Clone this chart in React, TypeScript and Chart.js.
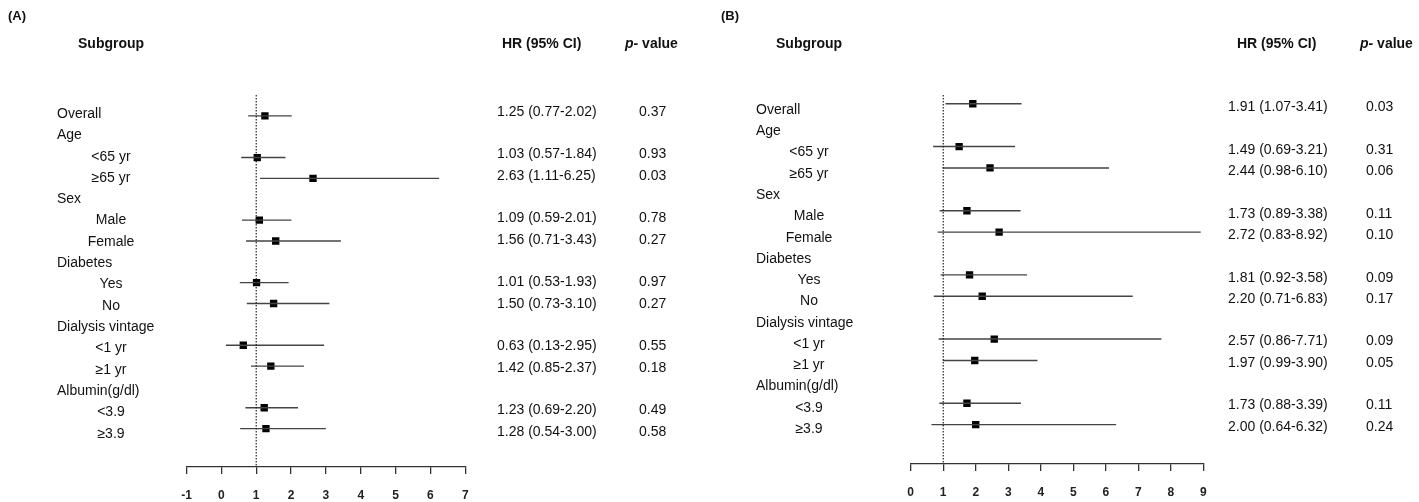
import React, { useEffect, useRef } from "react";
import { Chart, registerables } from "chart.js";
Chart.register(...registerables);

// ---------- data ----------
const subgroupLabels = [
  "Overall", "Age", "<65 yr", "≥65 yr", "Sex", "Male", "Female", "Diabetes",
  "Yes", "No", "Dialysis vintage", "<1 yr", "≥1 yr", "Albumin(g/dl)", "<3.9", "≥3.9",
];
const headerRows = ["Overall", "Age", "Sex", "Diabetes", "Dialysis vintage", "Albumin(g/dl)"];

// Panel A
const hrA = [1.25, null, 1.03, 2.63, null, 1.09, 1.56, null, 1.01, 1.5, null, 0.63, 1.42, null, 1.23, 1.28];
const loA = [0.77, null, 0.57, 1.11, null, 0.59, 0.71, null, 0.53, 0.73, null, 0.13, 0.85, null, 0.69, 0.54];
const hiA = [2.02, null, 1.84, 6.25, null, 2.01, 3.43, null, 1.93, 3.1, null, 2.95, 2.37, null, 2.2, 3.0];
const pA = ["0.37", null, "0.93", "0.03", null, "0.78", "0.27", null, "0.97", "0.27", null, "0.55", "0.18", null, "0.49", "0.58"];
const ticksA = [-1, 0, 1, 2, 3, 4, 5, 6, 7];

// Panel B
const hrB = [1.91, null, 1.49, 2.44, null, 1.73, 2.72, null, 1.81, 2.2, null, 2.57, 1.97, null, 1.73, 2.0];
const loB = [1.07, null, 0.69, 0.98, null, 0.89, 0.83, null, 0.92, 0.71, null, 0.86, 0.99, null, 0.88, 0.64];
const hiB = [3.41, null, 3.21, 6.1, null, 3.38, 8.92, null, 3.58, 6.83, null, 7.71, 3.9, null, 3.39, 6.32];
const pB = ["0.03", null, "0.31", "0.06", null, "0.11", "0.10", null, "0.09", "0.17", null, "0.09", "0.05", null, "0.11", "0.24"];
const ticksB = [0, 1, 2, 3, 4, 5, 6, 7, 8, 9];

const refValue = 1;

const FONT = '"Liberation Sans", Arial, Helvetica, sans-serif';

type Layout = {
  tag: string;
  left: number;
  width: number;
  padLeft: number;
  padRight: number;
  padTop: number;
  axisHeight: number;
  yRange: [number, number];
  labRange: [number, number];
  valRange: [number, number];
  tagX: number;
  tagY: number;
  headY: number;
  subgroupX: number;
  hrHeadX: number;
  pHeadX: number;
  headerX: number;
  subCenterX: number;
  hrX: number;
  pX: number;
};

type PanelData = {
  hr: (number | null)[];
  lo: (number | null)[];
  hi: (number | null)[];
  p: (string | null)[];
  ticks: number[];
};

const layoutA: Layout = {
  tag: "(A)", left: 0, width: 709,
  padLeft: 186.5, padRight: 709 - 465.3, padTop: 95, axisHeight: 35,
  yRange: [-1, 16.84], labRange: [-0.89, 16.55], valRange: [-0.78, 16.64],
  tagX: 8, tagY: 16, headY: 44,
  subgroupX: 78, hrHeadX: 502, pHeadX: 625,
  headerX: 57, subCenterX: 111, hrX: 497, pX: 639,
};

const layoutB: Layout = {
  tag: "(B)", left: 709, width: 710,
  padLeft: 910.7 - 709, padRight: 710 - (1203.3 - 709), padTop: 95, axisHeight: 38,
  yRange: [-0.41, 16.84], labRange: [-0.705, 16.64], valRange: [-0.58, 16.75],
  tagX: 12, tagY: 16, headY: 44,
  subgroupX: 776 - 709, hrHeadX: 1237 - 709, pHeadX: 1360 - 709,
  headerX: 756 - 709, subCenterX: 809 - 709, hrX: 1228 - 709, pX: 1366 - 709,
};

function ForestPanel({ data, layout }: { data: PanelData; layout: Layout }) {
  const ref = useRef<HTMLCanvasElement | null>(null);

  useEffect(() => {
    if (!ref.current) return;
    const rows = subgroupLabels.map((_, i) => i);

    const ciPoints: { x: number | null; y: number | null }[] = [];
    const markers: { x: number; y: number }[] = [];
    rows.forEach((r) => {
      const h = data.hr[r];
      const lo = data.lo[r];
      const hi = data.hi[r];
      if (h == null || lo == null || hi == null) return;
      ciPoints.push({ x: lo, y: r }, { x: hi, y: r }, { x: hi, y: null });
      markers.push({ x: h, y: r });
    });

    const textPlugin = {
      id: "forestText",
      afterDraw(chart: any) {
        const ctx = chart.ctx as CanvasRenderingContext2D;
        const yLab = chart.scales.yLab;
        const yVal = chart.scales.yVal;
        ctx.save();
        ctx.fillStyle = "#111";
        ctx.textBaseline = "middle";

        // panel tag
        ctx.font = `bold 13px ${FONT}`;
        ctx.textAlign = "left";
        ctx.fillText(layout.tag, layout.tagX, layout.tagY);

        // column headers
        ctx.font = `bold 14px ${FONT}`;
        ctx.fillText("Subgroup", layout.subgroupX, layout.headY);
        ctx.fillText("HR (95% CI)", layout.hrHeadX, layout.headY);
        ctx.font = `italic bold 14px ${FONT}`;
        ctx.fillText("p-", layout.pHeadX, layout.headY);
        const pw = ctx.measureText("p-").width;
        ctx.font = `bold 14px ${FONT}`;
        ctx.fillText(" value", layout.pHeadX + pw, layout.headY);

        // row labels
        ctx.font = `14px ${FONT}`;
        subgroupLabels.forEach((lab, r) => {
          const y = yLab.getPixelForValue(r);
          if (headerRows.includes(lab)) {
            ctx.textAlign = "left";
            ctx.fillText(lab, layout.headerX, y);
          } else {
            ctx.textAlign = "center";
            ctx.fillText(lab, layout.subCenterX, y);
          }
        });

        // HR text and p-values
        ctx.textAlign = "left";
        rows.forEach((r) => {
          const h = data.hr[r];
          const lo = data.lo[r];
          const hi = data.hi[r];
          const p = data.p[r];
          if (h == null || lo == null || hi == null) return;
          const y = yVal.getPixelForValue(r);
          ctx.fillText(`${h.toFixed(2)} (${lo.toFixed(2)}-${hi.toFixed(2)})`, layout.hrX, y);
          if (p != null) ctx.fillText(p, layout.pX, y);
        });
        ctx.restore();
      },
    };

    const chart = new Chart(ref.current, {
      type: "scatter",
      data: {
        datasets: [
          {
            type: "line",
            label: "reference",
            data: [
              { x: refValue, y: layout.yRange[0] },
              { x: refValue, y: layout.yRange[1] },
            ],
            borderColor: "#111",
            borderWidth: 1.1,
            borderDash: [1.5, 1.5],
            pointRadius: 0,
            yAxisID: "y",
          } as any,
          {
            type: "line",
            label: "CI",
            data: ciPoints,
            borderColor: "#444",
            borderWidth: 1.4,
            pointRadius: 0,
            spanGaps: false,
            yAxisID: "y",
          } as any,
          {
            type: "scatter",
            label: "HR",
            data: markers,
            pointStyle: "rect",
            pointRadius: 5.2,
            backgroundColor: "#000",
            borderColor: "#000",
            borderWidth: 0,
            yAxisID: "y",
          } as any,
        ],
      },
      options: {
        animation: false,
        responsive: false,
        devicePixelRatio: 1,
        layout: {
          padding: { left: layout.padLeft, right: layout.padRight, top: layout.padTop, bottom: 0 },
        },
        plugins: {
          legend: { display: false },
          tooltip: { enabled: false },
        },
        scales: {
          x: {
            type: "linear",
            position: "bottom",
            min: data.ticks[0],
            max: data.ticks[data.ticks.length - 1],
            afterBuildTicks: (s: any) => {
              s.ticks = data.ticks.map((v) => ({ value: v }));
            },
            afterFit: (s: any) => {
              s.height = layout.axisHeight;
            },
            grid: {
              drawOnChartArea: false,
              drawTicks: true,
              tickLength: 7,
              color: "#333",
              lineWidth: 1.3,
            },
            border: { display: true, color: "#333", width: 1.3 },
            ticks: {
              padding: 14,
              color: "#222",
              font: { family: FONT, size: 12, weight: "bold" },
              maxRotation: 0,
              autoSkip: false,
              callback: (v: any) => String(v),
            },
          },
          y: {
            type: "linear",
            display: false,
            reverse: true,
            min: layout.yRange[0],
            max: layout.yRange[1],
          },
          yLab: {
            type: "linear",
            display: false,
            reverse: true,
            min: layout.labRange[0],
            max: layout.labRange[1],
          },
          yVal: {
            type: "linear",
            display: false,
            reverse: true,
            min: layout.valRange[0],
            max: layout.valRange[1],
          },
        },
      } as any,
      plugins: [textPlugin],
    });

    return () => chart.destroy();
  }, [data, layout]);

  return (
    <canvas
      ref={ref}
      width={layout.width}
      height={502}
      style={{ position: "absolute", left: layout.left, top: 0, width: layout.width, height: 502 }}
    />
  );
}

const panelA: PanelData = { hr: hrA, lo: loA, hi: hiA, p: pA, ticks: ticksA };
const panelB: PanelData = { hr: hrB, lo: loB, hi: hiB, p: pB, ticks: ticksB };

export default function App() {
  return (
    <div
      style={{
        position: "fixed",
        left: 0,
        top: 0,
        width: 1419,
        height: 502,
        background: "#fff",
        overflow: "hidden",
      }}
    >
      <ForestPanel data={panelA} layout={layoutA} />
      <ForestPanel data={panelB} layout={layoutB} />
    </div>
  );
}
